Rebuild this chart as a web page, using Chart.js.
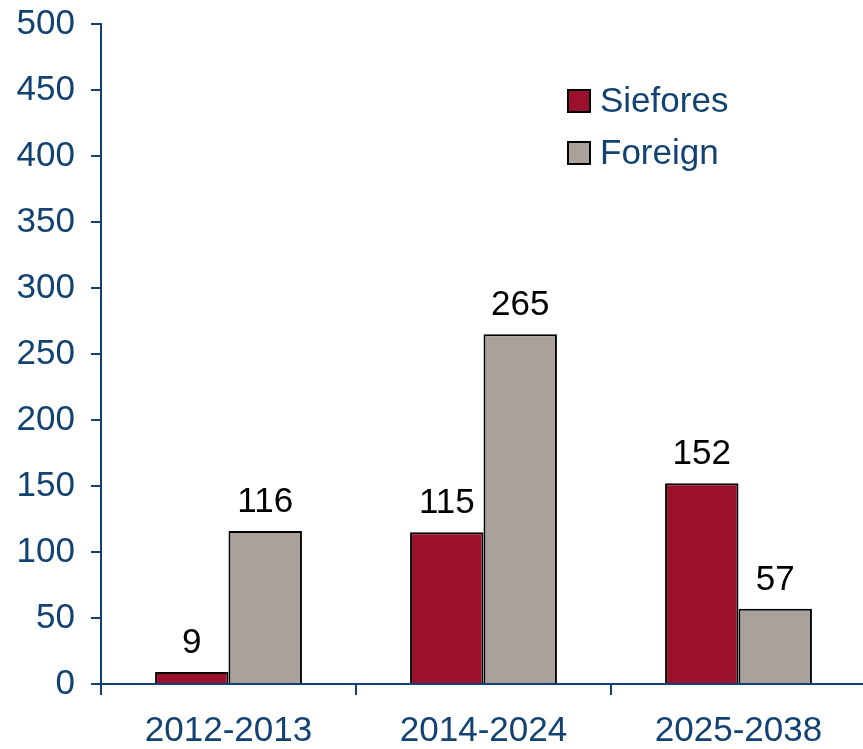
<!DOCTYPE html>
<html>
<head>
<meta charset="utf-8">
<script src="https://cdn.jsdelivr.net/npm/chart.js@4/dist/chart.umd.min.js"></script>
<style>
html,body{margin:0;padding:0;background:#fff;overflow:hidden;}
#wrap{width:863px;height:749px;position:relative;overflow:hidden;}
</style>
</head>
<body>
<div id="wrap"><canvas id="c" width="866" height="749"></canvas></div>
<script>
const categories = ['2012-2013', '2014-2024', '2025-2038'];
const siefores = [9, 115, 152];
const foreign = [116, 265, 57];
const seriesNames = ['Siefores', 'Foreign'];
const yTicks = {min: 0, max: 500, step: 50};

const NAVY = '#124272';
const FONT = '"Liberation Sans", Arial, sans-serif';
const FS = 35;

const valueLabels = {
  id: 'valueLabels',
  afterDatasetsDraw(chart) {
    const ctx = chart.ctx;
    ctx.save();
    ctx.font = FS + 'px ' + FONT;
    ctx.fillStyle = '#000';
    ctx.textAlign = 'center';
    ctx.textBaseline = 'alphabetic';
    chart.data.datasets.forEach((ds, i) => {
      chart.getDatasetMeta(i).data.forEach((bar, j) => {
        ctx.fillText(String(ds.data[j]), bar.x, bar.y - 19);
      });
    });
    ctx.restore();
  }
};

const boxLegend = {
  id: 'boxLegend',
  afterDraw(chart) {
    const ctx = chart.ctx;
    ctx.save();
    ctx.font = FS + 'px ' + FONT;
    ctx.textBaseline = 'middle';
    ctx.textAlign = 'left';
    chart.data.datasets.forEach((ds, i) => {
      const cy = 101 + i * 52;
      ctx.fillStyle = ds.backgroundColor;
      ctx.fillRect(568, cy - 11, 22, 22);
      ctx.lineWidth = 2;
      ctx.strokeStyle = '#000';
      ctx.strokeRect(568, cy - 11, 22, 22);
      ctx.fillStyle = NAVY;
      ctx.fillText(ds.label, 600, cy + 1);
    });
    ctx.restore();
  }
};

new Chart(document.getElementById('c'), {
  type: 'bar',
  data: {
    labels: categories,
    datasets: [
      {label: seriesNames[0], data: siefores, backgroundColor: '#9B102C', borderColor: '#000', borderWidth: 2,
       categoryPercentage: 0.576, barPercentage: 1.0},
      {label: seriesNames[1], data: foreign, backgroundColor: '#A9A29C', borderColor: '#000', borderWidth: 2,
       categoryPercentage: 0.576, barPercentage: 1.0}
    ]
  },
  options: {
    responsive: false,
    animation: false,
    layout: {padding: {top: 24, right: 0, bottom: 0, left: 0}},
    plugins: {legend: {display: false}, tooltip: {enabled: false}},
    scales: {
      x: {
        grid: {display: true, drawOnChartArea: false, drawTicks: true, tickLength: 11, color: NAVY, lineWidth: 2, offset: true},
        border: {display: true, color: NAVY, width: 2},
        ticks: {color: NAVY, font: {size: FS, family: FONT}, padding: 15, maxRotation: 0},
        afterFit(s) { s.height = 65; s.paddingLeft = 0; s.paddingRight = 0; }
      },
      y: {
        min: yTicks.min, max: yTicks.max,
        grid: {display: true, drawOnChartArea: false, drawTicks: true, tickLength: 10, color: NAVY, lineWidth: 2},
        border: {display: true, color: NAVY, width: 2},
        ticks: {stepSize: yTicks.step, color: NAVY, font: {size: FS, family: FONT}, padding: 16},
        afterFit(s) { s.width = 101; s.paddingTop = 0; s.paddingBottom = 0; }
      }
    }
  },
  plugins: [valueLabels, boxLegend]
});
</script>
</body>
</html>
